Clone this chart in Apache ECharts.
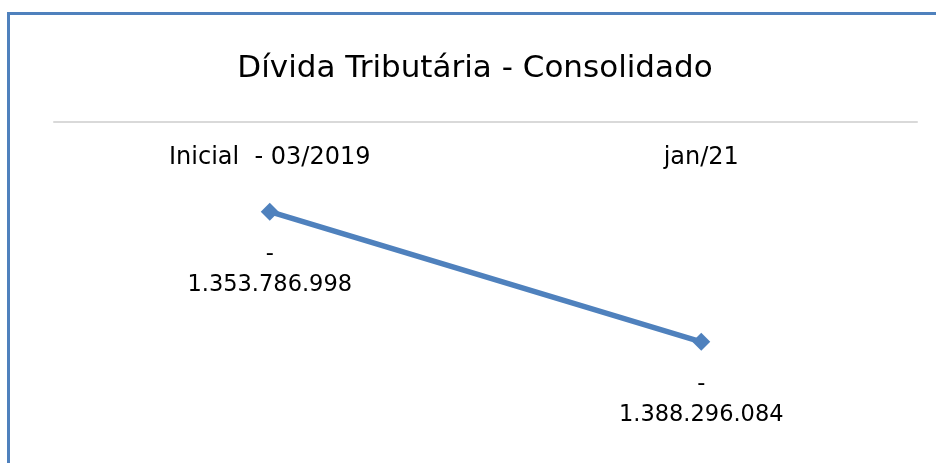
<!DOCTYPE html>
<html>
<head>
<meta charset="utf-8">
<script src="https://cdn.jsdelivr.net/npm/echarts@6/dist/echarts.min.js"></script>
<style>
  html, body { margin: 0; padding: 0; background: #fff; }
  #chart { width: 936px; height: 463px; }
</style>
</head>
<body>
<div id="chart"></div>
<script>
// data
var categories = ['Inicial  - 03/2019', 'jan/21'];
var divida = [-1353786998, -1388296084];
var yMin = -1400000000;
var yMax = -1330000000;

var FONT = '"DejaVu Sans", "Noto Sans", sans-serif';

function fmtNum(v) {
  var s = Math.abs(Math.round(v)).toString().replace(/\B(?=(\d{3})+(?!\d))/g, '.');
  return (v < 0 ? '-\n' : '') + s;
}

var chart = echarts.init(document.getElementById('chart'));
chart.setOption({
  animation: false,
  title: {
    text: 'Dívida Tributária - Consolidado',
    left: 470,
    textAlign: 'center',
    top: 48,
    textStyle: { fontFamily: FONT, fontSize: 31, fontWeight: 'normal', color: '#000' }
  },
  graphic: [{
    type: 'rect',
    shape: { x: 8.5, y: 13.5, width: 1000, height: 1000 },
    style: { fill: 'none', stroke: '#4f81bd', lineWidth: 3 }
  }],
  grid: { left: 54, right: 19, top: 122, height: 264 },
  xAxis: {
    type: 'category',
    data: categories,
    position: 'top',
    axisLine: { lineStyle: { color: '#d9d9d9', width: 2 } },
    axisTick: { show: false },
    axisLabel: {
      inside: true,
      margin: 24,
      fontFamily: FONT,
      fontSize: 24,
      color: '#000'
    }
  },
  yAxis: {
    type: 'value',
    min: yMin,
    max: yMax,
    show: false
  },
  series: [{
    type: 'line',
    data: divida,
    symbol: 'diamond',
    symbolSize: 18,
    itemStyle: { color: '#4f81bd' },
    lineStyle: { color: '#4f81bd', width: 5.5 },
    label: {
      show: true,
      position: 'bottom',
      distance: 18,
      align: 'center',
      lineHeight: 31,
      fontFamily: FONT,
      fontSize: 22.5,
      color: '#000',
      formatter: function (p) { return fmtNum(p.value); }
    }
  }]
});
</script>
</body>
</html>
